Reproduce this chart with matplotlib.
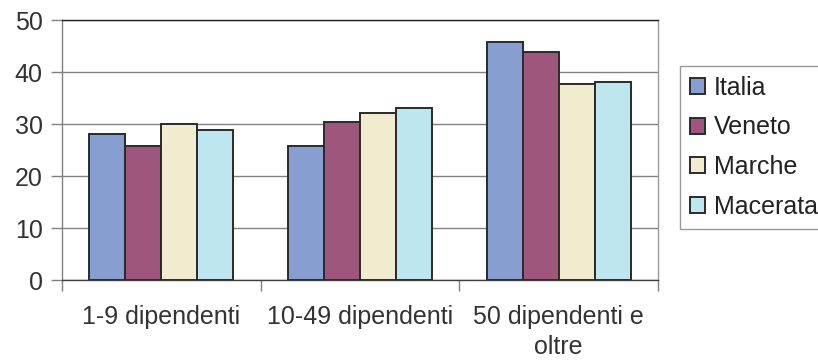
import matplotlib
matplotlib.use('Agg')
import matplotlib.pyplot as plt
import numpy as np

# dati per classe di addetti
categorie = ['1-9 dipendenti', '10-49 dipendenti', '50 dipendenti e\noltre']
serie = ['Italia', 'Veneto', 'Marche', 'Macerata']
italia = [28.0, 25.8, 45.8]
veneto = [25.8, 30.3, 43.8]
marche = [30.0, 32.2, 37.6]
macerata = [28.8, 33.1, 38.1]
colori = ['#879fd0', '#9e567c', '#f2ecce', '#bee6ef']

plt.rcParams['font.family'] = ['Liberation Sans', 'DejaVu Sans']

fig = plt.figure(figsize=(8.18, 3.62), dpi=100)
ax = fig.add_axes([62/818, 82/362, 596/818, 260/362])

valori = [italia, veneto, marche, macerata]
x = np.arange(len(categorie))
w = 0.181
for i, (nome, v, c) in enumerate(zip(serie, valori, colori)):
    ax.bar(x + (i - 1.5) * w, v, width=w, color=c, edgecolor='#2a2a2a',
           linewidth=1.4, label=nome, zorder=3)

ax.set_xlim(-0.5, 2.5)
ax.set_ylim(0, 50)
ax.set_yticks(range(0, 51, 10))
ax.yaxis.grid(True, color='#808080', linewidth=1, zorder=0)

ax.set_xticks(x)
ax.set_xticklabels(categorie, fontsize=18, color='#333333', linespacing=1.3)
ax.set_xticks([-0.5, 0.5, 1.5, 2.5], minor=True)
ax.tick_params(axis='x', which='major', length=0, pad=18)
ax.tick_params(axis='x', which='minor', length=8, color='#808080', width=1)
ax.tick_params(axis='y', length=8, color='#808080', width=1, labelsize=18,
               labelcolor='#333333', pad=6)

ax.spines['top'].set_color('#222222')
ax.spines['bottom'].set_color('#404040')
ax.spines['left'].set_color('#808080')
ax.spines['right'].set_color('#999999')
for s in ax.spines.values():
    s.set_linewidth(1)

leg = fig.legend(loc='upper left', bbox_to_anchor=(680/818, 1 - 66/362),
                 fontsize=18, frameon=True, fancybox=False, edgecolor='#808080',
                 handlelength=0.6, handleheight=0.6, handletextpad=0.36,
                 labelspacing=0.62, borderpad=0.4, borderaxespad=0,
                 labelcolor='#222222')
leg.get_frame().set_linewidth(1)

fig.savefig('out.png', dpi=100)
plt.close(fig)
